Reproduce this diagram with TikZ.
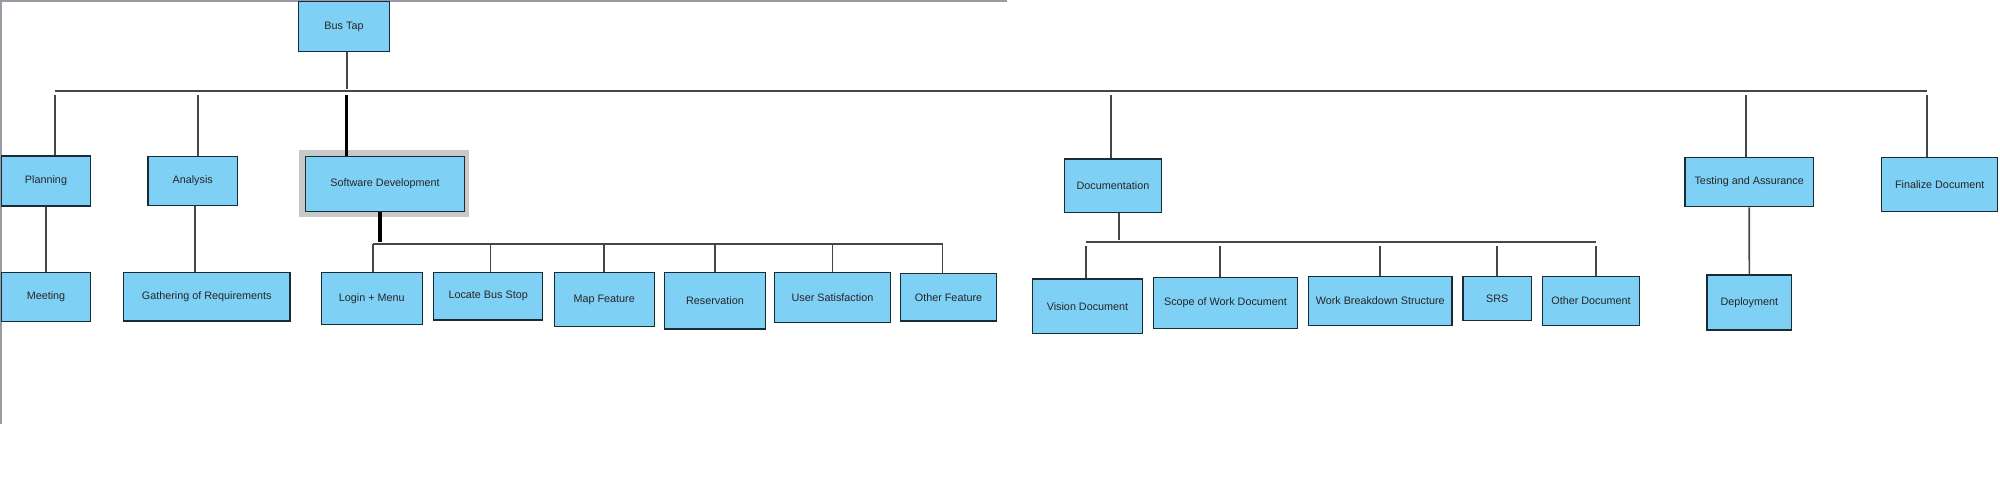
\documentclass[tikz,border=0pt]{standalone}
\usepackage{fontspec}
\setmainfont{Liberation Sans}
\definecolor{boxblue}{HTML}{7FD0F5}
\definecolor{boxline}{HTML}{1A2B38}
\definecolor{linegray}{HTML}{464646}
\definecolor{framegray}{HTML}{9A9AA4}
\definecolor{shadegray}{HTML}{C9C9C9}

\begin{document}
\begin{tikzpicture}[x=1pt,y=-1pt,
  box/.style={draw=boxline,fill=boxblue,line width=1.3pt,inner sep=0pt,text=black!85,
    font=\fontsize{10.8}{12}\selectfont},
  conn/.style={draw=linegray,line width=1.6pt},
  busline/.style={draw=linegray,line width=2pt},
  heavy/.style={draw=black,line width=3.5pt}]
\useasboundingbox (0,0) rectangle (2000,500);
\draw[framegray,line width=2pt] (0,1)--(1007,1);
\draw[framegray,line width=2pt] (1,0)--(1,424);

\node[box,minimum width=90.6pt,minimum height=50pt] (bustap) at (344,26.7) {Bus Tap};
\node[box,minimum width=88.6pt,minimum height=49.7pt] (plan) at (46,181) {Planning};
\node[box,minimum width=89.3pt,minimum height=49pt] (anal) at (192.7,181.2) {Analysis};
\fill[shadegray] (299.3,150.3) rectangle (469.3,217);
\node[box,minimum width=159.4pt,minimum height=54.6pt] (soft) at (385,184) {Software Development};
\node[box,minimum width=97.4pt,minimum height=53.3pt] (doc) at (1113,185.7) {Documentation};
\node[box,minimum width=128.3pt,minimum height=49pt] (test) at (1749.2,182.2) {Testing and Assurance};
\node[box,minimum width=116pt,minimum height=54pt] (final) at (1939.7,184.7) {Finalize Document};

\node[box,minimum width=88.6pt,minimum height=49.4pt] (meet) at (46,297) {Meeting};
\node[box,minimum width=166.7pt,minimum height=48.7pt] (gath) at (206.7,296.7) {Gathering of Requirements};
\node[box,minimum width=101pt,minimum height=52pt] (login) at (371.8,298.3) {Login + Menu};
\node[box,minimum width=108.8pt,minimum height=47.7pt] (locate) at (488.2,296.2) {Locate Bus Stop};
\node[box,minimum width=100.1pt,minimum height=54.4pt] (map) at (604.2,299.5) {Map Feature};
\node[box,minimum width=100.5pt,minimum height=56.7pt] (resv) at (715,300.7) {Reservation};
\node[box,minimum width=116.1pt,minimum height=50pt] (usat) at (832.5,297.3) {User Satisfaction};
\node[box,minimum width=95.6pt,minimum height=47.7pt] (ofeat) at (948.5,297.2) {Other Feature};
\node[box,minimum width=110.3pt,minimum height=54.3pt] (vis) at (1087.5,306.2) {Vision Document};
\node[box,minimum width=144.3pt,minimum height=51pt] (scope) at (1225.5,303.2) {Scope of Work Document};
\node[box,minimum width=143.4pt,minimum height=49.4pt] (wbs) at (1380.2,301) {Work Breakdown Structure};
\node[box,minimum width=68.5pt,minimum height=44.4pt] (srs) at (1497.2,298.5) {SRS};
\node[box,minimum width=96.6pt,minimum height=49.4pt] (odoc) at (1591,301) {Other Document};
\node[box,minimum width=84.7pt,minimum height=55pt] (depl) at (1749.3,302.5) {Deployment};

\coordinate (mainL) at (55,91);
\coordinate (mainR) at (1927,91);
\coordinate (softL) at (373.2,244);
\coordinate (softR) at (942.5,244);
\coordinate (docL) at (1086,242);
\coordinate (docR) at (1596,242);

\draw[conn,shorten >=2pt] ([xshift=2.7pt]bustap.south) -- ([xshift=2.7pt]bustap.south |- mainL);
\draw[busline] (mainL) -- (mainR);
\draw[conn,shorten <=4pt] (mainL) -- (mainL |- plan.north);
\draw[conn,shorten >=4pt] ([xshift=5.3pt]anal.north) -- ([xshift=5.3pt]anal.north |- mainL);
\draw[heavy,shorten >=4pt] ([xshift=-38.3pt]soft.north) -- ([xshift=-38.3pt]soft.north |- mainL);
\draw[conn,shorten >=4pt] ([xshift=-2.3pt]doc.north) -- ([xshift=-2.3pt]doc.north |- mainL);
\draw[conn,shorten >=4pt] ([xshift=-3.2pt]test.north) -- ([xshift=-3.2pt]test.north |- mainL);
\draw[conn,shorten <=4pt] (mainR) -- (mainR |- final.north);

\draw[conn] (plan.south) -- (plan.south |- meet.north);
\draw[conn] ([xshift=2.3pt]anal.south) -- ([xshift=2.3pt]anal.south |- gath.north);
\draw[conn] (test.south) -- (depl.north);

\draw[heavy,shorten >=2pt] ([xshift=-5pt]soft.south) -- ([xshift=-5pt]soft.south |- softL);
\draw[busline] (softL) -- (softR);
\draw[conn] (softL) -- (softL |- login.north);
\draw[conn] ([xshift=2.1pt]locate.north) -- ([xshift=2.1pt]locate.north |- softL);
\draw[conn] (map.north) -- (map.north |- softL);
\draw[conn] (resv.north) -- (resv.north |- softL);
\draw[conn] (usat.north) -- (usat.north |- softL);
\draw[conn] (softR) -- (softR |- ofeat.north);

\draw[conn,shorten >=2pt] ([xshift=6pt]doc.south) -- ([xshift=6pt]doc.south |- docL);
\draw[busline] (docL) -- (docR);
\draw[conn,shorten <=4pt] (docL) -- (docL |- vis.north);
\draw[conn,shorten >=4pt] ([xshift=-5.8pt]scope.north) -- ([xshift=-5.8pt]scope.north |- docL);
\draw[conn,shorten >=4pt] (wbs.north) -- (wbs.north |- docL);
\draw[conn,shorten >=4pt] (srs.north) -- (srs.north |- docL);
\draw[conn,shorten <=4pt] (docR) -- (docR |- odoc.north);
\end{tikzpicture}
\end{document}
